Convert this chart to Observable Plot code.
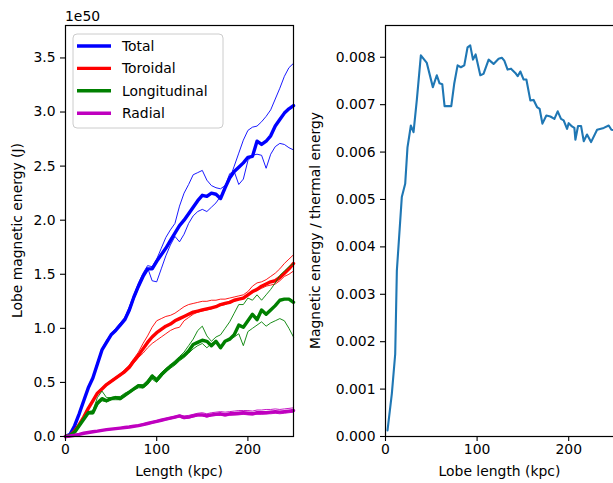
<!DOCTYPE html>
<html><head><meta charset="utf-8">
<script src="https://cdn.jsdelivr.net/npm/d3@7"></script>
<script src="https://cdn.jsdelivr.net/npm/@observablehq/plot@0.6"></script>
<style>
html,body{margin:0;padding:0;background:#fff;}
#fig{position:relative;width:613px;height:483px;overflow:hidden;background:#fff;}
#left{position:absolute;left:0;top:0;width:300px;height:483px;}
#right{position:absolute;left:300px;top:0;width:320px;height:483px;}
#fig svg{max-width:none !important;display:block;}
svg text{font-family:"DejaVu Sans",sans-serif;}
</style></head><body>
<div id="fig"><div id="left"></div><div id="right"></div></div>
<script>
// ---------- Left panel data (energy in units of 1e50 J) ----------
const lengths = [0,5,10,15,20,25,30,35,40,45,50,55,60,65,70,75,80,85,90,95,100,105,110,115,120,125,130,135,140,145,150,155,160,165,170,175,180,185,190,195,200,205,210,215,220,225,230,235,240,245,250];

const totalMean = [0,0.02,0.10,0.21,0.33,0.45,0.54,0.67,0.80,0.87,0.94,0.98,1.03,1.08,1.17,1.29,1.39,1.48,1.55,1.55,1.62,1.68,1.74,1.81,1.88,1.95,2.00,2.06,2.12,2.18,2.23,2.22,2.25,2.24,2.20,2.30,2.39,2.45,2.49,2.53,2.58,2.59,2.73,2.70,2.73,2.78,2.87,2.93,2.99,3.03,3.06];
const totalA = [0,0.02,0.11,0.22,0.34,0.46,0.55,0.69,0.81,0.89,0.95,1.00,1.05,1.10,1.20,1.31,1.42,1.51,1.58,1.57,1.64,1.74,1.84,1.91,1.97,2.13,2.25,2.33,2.42,2.44,2.46,2.37,2.32,2.30,2.29,2.32,2.38,2.50,2.62,2.74,2.83,2.86,2.87,2.91,2.96,3.02,3.12,3.22,3.33,3.41,3.45];
const totalB = [0,0.02,0.10,0.20,0.32,0.44,0.53,0.66,0.79,0.86,0.93,0.97,1.02,1.07,1.15,1.27,1.37,1.47,1.56,1.44,1.43,1.55,1.67,1.77,1.85,1.80,1.87,1.97,2.04,2.08,2.10,2.08,2.12,2.16,2.22,2.31,2.43,2.45,2.33,2.38,2.55,2.60,2.61,2.60,2.48,2.61,2.68,2.71,2.70,2.67,2.65];

const toroidalMean = [0,0.01,0.05,0.11,0.18,0.26,0.33,0.40,0.44,0.48,0.51,0.54,0.57,0.60,0.64,0.70,0.75,0.81,0.87,0.92,0.96,0.99,1.02,1.04,1.07,1.09,1.11,1.13,1.15,1.16,1.17,1.18,1.19,1.20,1.22,1.23,1.24,1.26,1.27,1.28,1.31,1.34,1.36,1.39,1.41,1.43,1.44,1.47,1.51,1.55,1.60];
const toroidalA = [0,0.01,0.05,0.12,0.19,0.27,0.34,0.41,0.45,0.49,0.52,0.55,0.58,0.62,0.66,0.72,0.78,0.86,0.93,1.01,1.07,1.09,1.11,1.12,1.14,1.17,1.20,1.22,1.23,1.24,1.25,1.25,1.26,1.26,1.27,1.27,1.28,1.29,1.30,1.31,1.34,1.39,1.42,1.43,1.45,1.48,1.51,1.55,1.60,1.64,1.68];
const toroidalB = [0,0.01,0.04,0.10,0.17,0.25,0.32,0.39,0.43,0.47,0.50,0.53,0.56,0.59,0.63,0.68,0.73,0.77,0.82,0.86,0.89,0.92,0.95,0.98,1.00,1.01,1.07,1.10,1.13,1.15,1.16,1.17,1.18,1.20,1.21,1.22,1.24,1.25,1.27,1.29,1.31,1.33,1.35,1.37,1.39,1.40,1.41,1.44,1.48,1.50,1.53];

const longitudinalMean = [0,0.01,0.04,0.10,0.16,0.22,0.22,0.31,0.35,0.33,0.35,0.36,0.35,0.38,0.41,0.44,0.47,0.46,0.50,0.56,0.52,0.57,0.61,0.65,0.68,0.72,0.75,0.79,0.85,0.87,0.89,0.88,0.84,0.88,0.82,0.88,0.90,0.94,1.03,1.01,1.07,1.13,1.08,1.17,1.13,1.17,1.21,1.26,1.27,1.27,1.24];
const longitudinalA = [0,0.01,0.04,0.10,0.16,0.23,0.24,0.36,0.42,0.36,0.36,0.37,0.37,0.40,0.42,0.45,0.48,0.48,0.52,0.57,0.54,0.59,0.63,0.66,0.70,0.74,0.78,0.84,0.90,0.98,1.02,0.93,0.88,0.92,0.94,1.00,1.06,1.14,1.22,1.22,1.28,1.26,1.31,1.26,1.31,1.36,1.42,1.49,1.53,1.57,1.60];
const longitudinalB = [0,0.01,0.04,0.09,0.15,0.21,0.21,0.29,0.33,0.32,0.34,0.34,0.34,0.37,0.40,0.43,0.45,0.45,0.48,0.53,0.50,0.55,0.60,0.63,0.66,0.70,0.73,0.77,0.81,0.84,0.86,0.82,0.86,0.88,0.81,0.87,0.90,0.92,0.95,0.84,0.97,1.00,1.03,1.06,1.02,1.05,1.07,1.09,1.07,1.00,0.92];

const radialMean = [0,0.005,0.012,0.02,0.03,0.037,0.044,0.05,0.057,0.063,0.068,0.073,0.078,0.083,0.088,0.095,0.10,0.11,0.12,0.13,0.14,0.15,0.16,0.17,0.18,0.19,0.175,0.18,0.19,0.20,0.20,0.19,0.20,0.205,0.21,0.20,0.21,0.21,0.215,0.22,0.215,0.21,0.22,0.22,0.22,0.225,0.23,0.225,0.23,0.235,0.24];
const radialA = [0,0.006,0.014,0.023,0.033,0.04,0.047,0.054,0.06,0.067,0.072,0.077,0.082,0.088,0.094,0.10,0.108,0.118,0.128,0.138,0.148,0.158,0.168,0.178,0.188,0.198,0.19,0.195,0.205,0.215,0.22,0.21,0.22,0.225,0.23,0.225,0.23,0.235,0.24,0.24,0.24,0.235,0.245,0.245,0.25,0.25,0.255,0.25,0.255,0.26,0.265];
const radialB = [0,0.004,0.01,0.018,0.027,0.034,0.04,0.046,0.053,0.059,0.064,0.069,0.074,0.079,0.084,0.09,0.095,0.104,0.113,0.123,0.133,0.143,0.152,0.162,0.172,0.18,0.165,0.17,0.18,0.19,0.19,0.18,0.19,0.195,0.195,0.19,0.195,0.2,0.2,0.205,0.2,0.2,0.205,0.205,0.21,0.21,0.215,0.21,0.215,0.22,0.225];

const seriesNames = ["Total", "Toroidal", "Longitudinal", "Radial"];
const seriesColors = ["#0000ff", "#ff0000", "#008000", "#bf00bf"];
const xTicks = [0, 100, 200];
const yTicksLeft = [0, 0.5, 1.0, 1.5, 2.0, 2.5, 3.0, 3.5];

// ---------- Right panel data ----------
const lobeLength = [2.2,6.9,10.6,12.4,17.8,21.5,24,27.7,30.6,34.2,38.6,45.1,51.7,56,59,62,64.5,71.8,75,78.7,82.3,86,89.6,92.5,95.5,98.4,103.5,107,112.6,118,123.5,127,129.7,133.3,137,141.7,144.3,147.2,150.8,153.8,158.1,161.7,165.4,168.3,171.3,175.6,180,184.4,188,191.6,194.5,198.2,200,203.6,206.2,207.3,210.2,213.5,216.4,220,224.4,231,238.3,243.7,246.6,250];
const energyRatio = [0.00013,0.0009,0.00174,0.0035,0.00505,0.00533,0.0061,0.00656,0.00642,0.0071,0.00804,0.00788,0.00737,0.00762,0.00745,0.00743,0.00697,0.00697,0.00744,0.00783,0.00779,0.00783,0.00821,0.00825,0.00795,0.00806,0.00762,0.00765,0.00795,0.00786,0.00797,0.00799,0.00793,0.00774,0.00776,0.00767,0.0076,0.0077,0.00753,0.00753,0.00709,0.0071,0.00695,0.00691,0.0066,0.00677,0.00675,0.0067,0.00686,0.0067,0.00667,0.00649,0.00661,0.00654,0.00651,0.00626,0.00655,0.00655,0.00623,0.00637,0.00621,0.00647,0.00651,0.00656,0.00647,0.00646];
const yTicksRight = [0, 0.001, 0.002, 0.003, 0.004, 0.005, 0.006, 0.007, 0.008];

// ---------- Drawing ----------
const FONT = "DejaVu Sans, sans-serif";
const FS = 13.9;
const baseStyle = {fontFamily: FONT, fontSize: FS + "px", color: "black", background: "white", overflow: "visible", maxWidth: "none"};

const groups = [
  [totalA, totalB, totalMean],
  [toroidalA, toroidalB, toroidalMean],
  [longitudinalA, longitudinalB, longitudinalMean],
  [radialA, radialB, radialMean]
];
const lineMarks = [];
groups.forEach((g, i) => {
  lineMarks.push(Plot.line(lengths, {x: lengths, y: g[0], stroke: seriesColors[i], strokeWidth: 0.9}));
  lineMarks.push(Plot.line(lengths, {x: lengths, y: g[1], stroke: seriesColors[i], strokeWidth: 0.9}));
  lineMarks.push(Plot.line(lengths, {x: lengths, y: g[2], stroke: seriesColors[i], strokeWidth: 3.4}));
});

const left = Plot.plot({
  width: 300, height: 483,
  marginLeft: 65, marginRight: 7, marginTop: 25, marginBottom: 47,
  style: baseStyle,
  x: {domain: [0, 250]},
  y: {domain: [0, 3.8]},
  marks: [
    ...lineMarks,
    Plot.frame({stroke: "black", strokeWidth: 1.2}),
    Plot.axisX({ticks: xTicks, tickSize: 5, tickPadding: 3, strokeWidth: 1.1, label: null, tickFormat: d => String(d)}),
    Plot.axisY({ticks: yTicksLeft, tickSize: 5, tickPadding: 5, strokeWidth: 1.1, label: null, tickFormat: d3.format(".1f")})
  ]
});
document.getElementById("left").appendChild(left);

const right = Plot.plot({
  width: 320, height: 483,
  marginLeft: 85, marginRight: 6, marginTop: 25, marginBottom: 47,
  style: baseStyle,
  x: {domain: [0, 250]},
  y: {domain: [0, 0.00867]},
  marks: [
    Plot.line(lobeLength, {x: lobeLength, y: energyRatio, stroke: "#1f77b4", strokeWidth: 2.1}),
    Plot.frame({stroke: "black", strokeWidth: 1.2}),
    Plot.axisX({ticks: xTicks, tickSize: 5, tickPadding: 3, strokeWidth: 1.1, label: null, tickFormat: d => String(d)}),
    Plot.axisY({ticks: yTicksRight, tickSize: 5, tickPadding: 5, strokeWidth: 1.1, label: null, tickFormat: d3.format(".3f")})
  ]
});
document.getElementById("right").appendChild(right);

// ---------- Labels, offset text and legend ----------
function addText(svg, txt, x, y, opts = {}) {
  const t = d3.select(svg).append("text")
    .attr("x", x).attr("y", y)
    .attr("fill", "black")
    .attr("font-family", FONT)
    .attr("font-size", FS)
    .attr("text-anchor", opts.anchor || "middle")
    .text(txt);
  if (opts.rotate) t.attr("transform", `rotate(${opts.rotate},${x},${y})`);
  if (opts.baseline) t.attr("dominant-baseline", opts.baseline);
  return t;
}
// left panel
addText(left, "Length (kpc)", 65 + 228 / 2, 476);
addText(left, "Lobe magnetic energy (J)", 17, 25 + 411 / 2, {rotate: -90, baseline: "central"});
addText(left, "1e50", 65, 21, {anchor: "start"});
// right panel
addText(right, "Lobe length (kpc)", 85 + 229 / 2, 476);
addText(right, "Magnetic energy / thermal energy", 15, 25 + 411 / 2, {rotate: -90, baseline: "central"});

// legend
const lg = d3.select(left).append("g");
lg.append("rect").attr("x", 73).attr("y", 34).attr("width", 150).attr("height", 94)
  .attr("rx", 4).attr("fill", "white").attr("fill-opacity", 0.8)
  .attr("stroke", "#cccccc").attr("stroke-width", 1);
seriesNames.forEach((name, i) => {
  const y = 46 + i * 22.4;
  lg.append("line").attr("x1", 77).attr("x2", 111).attr("y1", y).attr("y2", y)
    .attr("stroke", seriesColors[i]).attr("stroke-width", 3.4);
  lg.append("text").attr("x", 122).attr("y", y).attr("dy", "0.35em")
    .attr("text-anchor", "start")
    .attr("fill", "black").attr("font-family", FONT).attr("font-size", FS).text(name);
});
</script>
</body></html>
